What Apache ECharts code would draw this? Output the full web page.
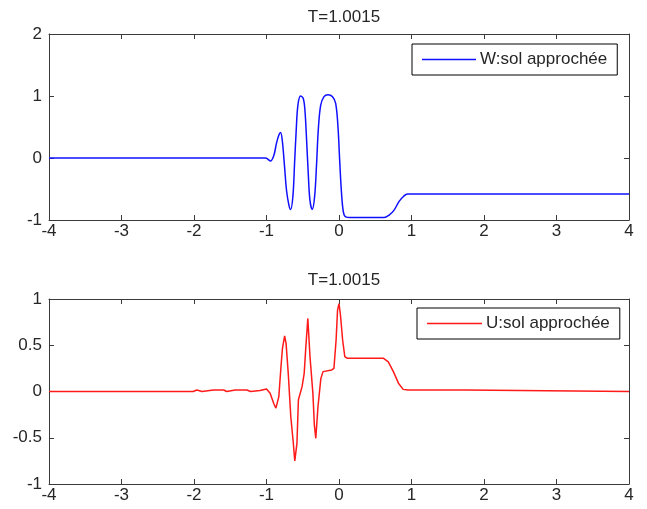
<!DOCTYPE html>
<html>
<head>
<meta charset="utf-8">
<script src="https://cdn.jsdelivr.net/npm/echarts@6/dist/echarts.min.js"></script>
<style>
  html, body { margin: 0; padding: 0; background: #fff; }
  #chart { width: 647px; height: 509px; }
</style>
</head>
<body>
<div id="chart"></div>
<script>
// Approximate solution W at T=1.0015
const xW = [-4, -1.014, -0.99, -0.945, -0.899, -0.862, -0.829, -0.806, -0.783, -0.751, -0.724, -0.691, -0.668,
  -0.636, -0.613, -0.590, -0.567, -0.530, -0.493, -0.470, -0.447, -0.424, -0.401, -0.369, -0.336, -0.309,
  -0.286, -0.253, -0.207, -0.152, -0.092, -0.046, -0.014, 0.009, 0.032, 0.060, 0.092, 0.161, 0.622, 0.691,
  0.760, 0.829, 0.889, 0.945, 4];
const yW = [0, 0, -0.01, -0.05, 0.04, 0.24, 0.37, 0.41, 0.29, -0.14, -0.52, -0.76, -0.83,
  -0.62, -0.09, 0.45, 0.85, 1.0, 0.96, 0.77, 0.29, -0.25, -0.68, -0.83, -0.62, -0.09,
  0.45, 0.85, 0.99, 1.02, 0.99, 0.88, 0.5, -0.03, -0.52, -0.87, -0.95, -0.96, -0.96, -0.92,
  -0.84, -0.70, -0.62, -0.58, -0.58];

// Approximate solution U at T=1.0015
const xU = [-4, -2.01, -1.96, -1.89, -1.73, -1.59, -1.55, -1.43, -1.27, -1.22, -1.09, -1.0, -0.95, -0.90,
  -0.87, -0.83, -0.80, -0.78, -0.75, -0.73, -0.70, -0.665, -0.63, -0.61, -0.58, -0.56, -0.51, -0.48, -0.46,
  -0.43, -0.40, -0.36, -0.34, -0.32, -0.29, -0.25, -0.22, -0.10, -0.07, -0.04, -0.02, 0, 0.02, 0.05, 0.08,
  0.11, 0.61, 0.68, 0.75, 0.82, 0.885, 0.95, 1.74, 1.75, 4];
const yU = [0, 0, 0.016, 0, 0.016, 0.016, 0, 0.016, 0.016, 0, 0.01, 0.027, -0.02, -0.13,
  -0.18, -0.056, 0.27, 0.467, 0.6, 0.52, 0.196, -0.27, -0.56, -0.75, -0.56, -0.09, 0.05, 0.197, 0.45,
  0.79, 0.376, -0.02, -0.36, -0.506, -0.165, 0.142, 0.215, 0.233, 0.25, 0.557, 0.88, 0.95, 0.83, 0.557, 0.376,
  0.36, 0.36, 0.32, 0.215, 0.09, 0.023, 0.016, 0.016, 0, 0];

const xTicks = [-4, -3, -2, -1, 0, 1, 2, 3, 4];
const titleText = 'T=1.0015';
const nameW = 'W:sol approchée';
const nameU = 'U:sol approchée';

const FONT = '"Liberation Sans", Arial, sans-serif';
const FS = 17;
const AX = '#3a3a3a';
const TXT = '#262626';

const pairs = (xs, ys) => xs.map((x, i) => [x, ys[i]]);

function xAxisPair(gridIndex) {
  return [
    {
      type: 'value', gridIndex, position: 'bottom', min: xTicks[0], max: xTicks[xTicks.length - 1], interval: 1,
      axisLine: { show: true, onZero: false, lineStyle: { color: AX, width: 1 } },
      axisTick: { show: true, inside: true, length: 5, lineStyle: { color: AX } },
      axisLabel: { show: true, color: TXT, fontSize: FS, fontFamily: FONT, margin: 3 },
      splitLine: { show: false }
    },
    {
      type: 'value', gridIndex, position: 'top', min: xTicks[0], max: xTicks[xTicks.length - 1], interval: 1,
      axisLine: { show: true, onZero: false, lineStyle: { color: AX, width: 1 } },
      axisTick: { show: true, inside: true, length: 5, lineStyle: { color: AX } },
      axisLabel: { show: false },
      splitLine: { show: false }
    }
  ];
}

function yAxisPair(gridIndex, min, max, interval) {
  return [
    {
      type: 'value', gridIndex, position: 'left', min, max, interval,
      axisLine: { show: true, onZero: false, lineStyle: { color: AX, width: 1 } },
      axisTick: { show: true, inside: true, length: 5, lineStyle: { color: AX } },
      axisLabel: { show: true, color: TXT, fontSize: FS, fontFamily: FONT, margin: 7 },
      splitLine: { show: false }
    },
    {
      type: 'value', gridIndex, position: 'right', min, max, interval,
      axisLine: { show: true, onZero: false, lineStyle: { color: AX, width: 1 } },
      axisTick: { show: true, inside: true, length: 5, lineStyle: { color: AX } },
      axisLabel: { show: false },
      splitLine: { show: false }
    }
  ];
}

const legendBase = {
  orient: 'vertical', icon: 'rect',
  borderColor: '#000', borderWidth: 1, padding: [7, 10, 7, 10],
  itemWidth: 54, itemHeight: 1.5, itemGap: 0,
  textStyle: { fontSize: FS, color: TXT, fontFamily: FONT, padding: [1, 0, 0, -1] }
};

const chart = echarts.init(document.getElementById('chart'), null, { renderer: 'canvas' });

chart.setOption({
  animation: false,
  backgroundColor: '#ffffff',
  title: [
    { text: titleText, left: 339, top: 4, textAlign: 'center',
      textStyle: { fontSize: FS, fontWeight: 'normal', color: TXT, fontFamily: FONT } },
    { text: titleText, left: 339, top: 267, textAlign: 'center',
      textStyle: { fontSize: FS, fontWeight: 'normal', color: TXT, fontFamily: FONT } }
  ],
  legend: [
    Object.assign({}, legendBase, { data: [nameW], left: 412, top: 44 }),
    Object.assign({}, legendBase, { data: [nameU], left: 417, top: 308, itemWidth: 55 })
  ],
  grid: [
    { left: 49, top: 34, width: 580, height: 186 },
    { left: 49, top: 299, width: 580, height: 185 }
  ],
  xAxis: [...xAxisPair(0), ...xAxisPair(1)],
  yAxis: [...yAxisPair(0, -1, 2, 1), ...yAxisPair(1, -1, 1, 0.5)],
  series: [
    {
      name: nameW, type: 'line', xAxisIndex: 0, yAxisIndex: 0,
      data: pairs(xW, yW), symbol: 'none', smooth: 0.35,
      lineStyle: { color: '#1010ff', width: 1.5 }, itemStyle: { color: '#1010ff' }
    },
    {
      name: nameU, type: 'line', xAxisIndex: 2, yAxisIndex: 2,
      data: pairs(xU, yU), symbol: 'none',
      lineStyle: { color: '#ff1a1a', width: 1.5 }, itemStyle: { color: '#ff1a1a' }
    }
  ]
});
</script>
</body>
</html>
